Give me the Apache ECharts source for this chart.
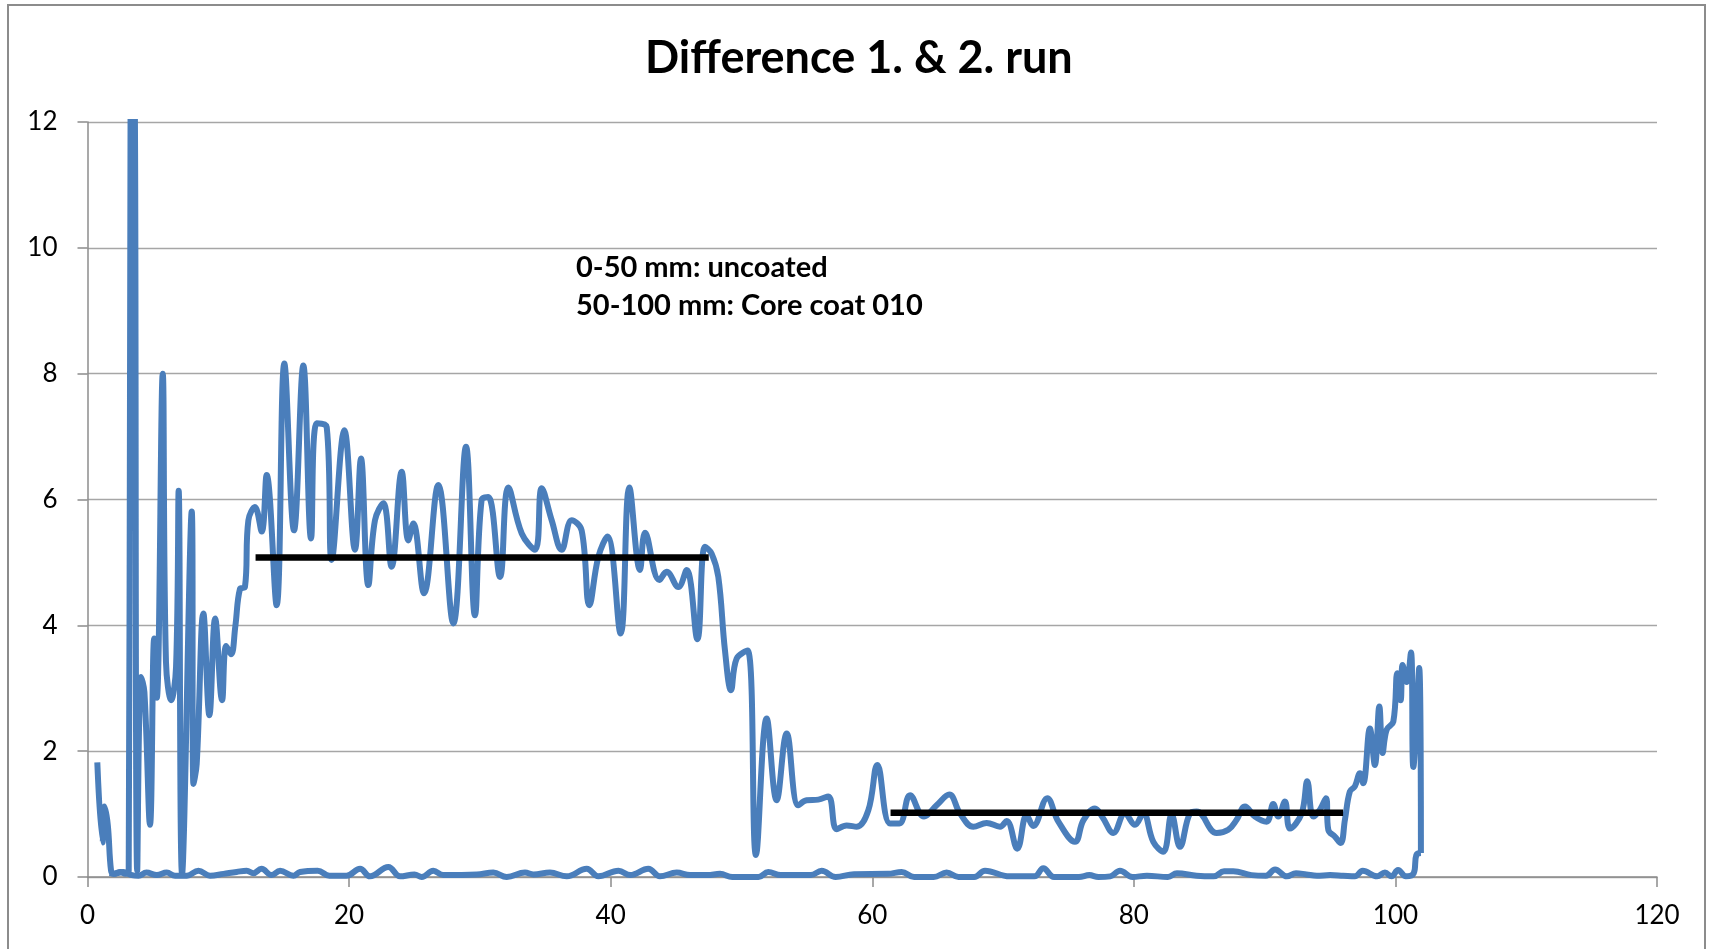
<!DOCTYPE html>
<html>
<head>
<meta charset="utf-8">
<script src="https://cdn.jsdelivr.net/npm/echarts@6/dist/echarts.min.js"></script>
<style>html,body{margin:0;padding:0;background:#fff;}#c{width:1709px;height:949px;}</style>
</head>
<body>
<div id="c"></div>
<script>
// Forward run: position (mm) and difference
const xMain = [0.75,1.15,1.3,1.55,1.8,2.0,2.5,2.9,3.15,3.3,3.55,3.8,4.1,4.35,4.78,5.1,5.3,5.75,6.0,6.4,6.77,6.97,7.23,7.97,8.1,8.35,8.86,9.32,9.76,10.29,10.6,10.98,11.3,11.66,12.04,12.3,12.8,13.32,13.7,14.46,15.05,15.79,16.5,17.09,17.52,18.29,18.67,19.64,20.45,20.91,21.47,21.98,22.62,23.25,24.02,24.53,24.91,25.73,26.82,27.97,28.94,29.62,30.13,30.64,31.54,32.18,33.2,34.22,34.73,35.49,36.25,37.02,37.78,38.37,39.06,39.75,40.76,41.43,42.24,42.63,43.72,44.28,45.17,45.81,46.63,47.21,47.72,48.23,48.74,49.2,49.63,50.47,51.11,51.93,52.69,53.46,54.35,54.98,55.88,56.64,57.28,58.04,58.81,59.7,60.39,61.36,62.07,62.89,63.96,64.92,65.89,66.71,67.73,68.75,69.77,70.28,71.09,71.8,72.31,73.38,74.23,75.5,76.14,77.03,77.6,78.43,79.32,80.09,80.72,81.49,82.25,82.89,83.53,84.29,84.8,86.33,87.22,87.86,88.5,89.26,90.15,90.66,91.04,91.55,91.94,92.83,93.26,93.72,94.23,94.69,94.87,95.38,95.81,96.14,96.52,96.9,97.29,97.54,98.05,98.43,98.77,99.02,99.33,99.84,100.14,100.4,100.55,100.86,101.19,101.37,101.82,101.95];
const yMain = [1.82,0.55,1.12,0.83,0.1,0.05,0.08,0.05,0.1,13,13,0.1,3.18,2.94,0.83,3.79,2.85,8.0,3.42,2.81,3.34,6.14,0.05,5.81,1.48,1.8,4.19,2.57,4.11,2.81,3.67,3.54,3.98,4.58,4.61,5.67,5.88,5.49,6.39,4.32,8.16,5.51,8.13,5.38,7.21,7.15,5.04,7.1,5.2,6.65,4.64,5.67,5.94,4.93,6.44,5.35,5.62,4.51,6.23,4.03,6.84,4.16,5.99,6.04,4.77,6.19,5.46,5.2,6.18,5.67,5.2,5.67,5.51,4.32,5.09,5.41,3.87,6.19,4.88,5.47,4.72,4.85,4.61,4.88,3.78,5.25,5.14,4.77,3.6,2.97,3.47,3.6,0.35,2.52,1.22,2.28,1.14,1.22,1.23,1.28,0.76,0.82,0.8,1.06,1.78,0.85,0.85,1.3,0.96,1.14,1.31,1.01,0.8,0.86,0.8,0.89,0.45,0.98,0.81,1.25,0.88,0.56,0.9,1.09,0.95,0.7,1.01,0.83,1.01,0.56,0.4,0.99,0.48,1.01,1.04,0.7,0.75,0.91,1.12,0.96,0.88,1.16,0.96,1.2,0.77,1.01,1.52,0.96,1.07,1.25,0.75,0.64,0.54,0.91,1.36,1.44,1.65,1.49,2.36,1.78,2.71,1.97,2.34,2.47,3.24,2.81,3.37,3.1,3.57,1.75,3.32,0.38];
// Return run: position (mm) and difference
const xBack = [101.95,101.6,101.4,100.8,100.2,99.7,99.2,98.6,97.5,96.9,96.0,95.0,94.0,93.2,92.4,91.7,90.8,90.1,89.0,87.6,86.9,86.1,84.8,83.3,82.6,81.0,79.9,78.94,78.2,77.3,76.6,75.8,73.9,73.08,72.4,70.5,68.62,67.8,66.6,65.69,64.7,63.2,62.25,61.2,58.6,57.2,56.13,55.3,53.0,52.05,51.3,49.3,48.36,47.4,46.07,45.05,43.77,42.88,41.5,40.6,39.06,38.17,36.64,35.36,34.1,33.45,32.05,31.03,29.76,27.2,26.44,25.55,25.0,23.9,23.0,21.6,20.84,19.8,18.5,17.6,16.25,15.74,14.72,14.08,13.3,12.68,12.17,11.4,10.4,9.37,8.48,7.6,6.7,6.06,5.3,4.5,3.9,3.4,2.74,2.0,1.7];
const yBack = [0.38,0.35,0.06,0.01,0.11,0.01,0.07,0.01,0.1,0.01,0.02,0.03,0.02,0.04,0.06,0.01,0.12,0.02,0.03,0.09,0.09,0.01,0.02,0.06,0.0,0.02,0.0,0.1,0.01,0.0,0.03,0.0,0.0,0.14,0.01,0.01,0.1,0.0,0.0,0.07,0.0,0.0,0.08,0.05,0.045,0.0,0.1,0.03,0.03,0.08,0.0,0.0,0.05,0.03,0.03,0.07,0.01,0.13,0.03,0.1,0.01,0.13,0.01,0.07,0.04,0.07,0.0,0.07,0.04,0.03,0.1,0.0,0.04,0.01,0.16,0.01,0.13,0.02,0.02,0.1,0.08,0.02,0.1,0.03,0.13,0.06,0.1,0.08,0.05,0.02,0.1,0.02,0.02,0.07,0.03,0.07,0.02,0.03,0.08,0.05,0.06];
// Average levels
const mean1X = [12.85, 47.5], mean1Y = 5.08;
const mean2X = [61.4, 96.0], mean2Y = 1.02;
const xTicks = {min: 0, max: 120, interval: 20};
const yTicks = {min: 0, max: 12, interval: 2};
const titleText = 'Difference 1. & 2. run';
const noteLines = ['0-50 mm: uncoated', '50-100 mm: Core coat 010'];

const zip = (xs, ys) => xs.map((x, i) => [x, ys[i]]);
const chart = echarts.init(document.getElementById('c'));
const blue = '#4A7EBB';
const gray = '#a6a6a6';
chart.setOption({
  animation: false,
  backgroundColor: '#fff',
  title: {
    text: titleText, left: 640, top: 31,
    textStyle: {fontFamily: 'Lato', fontWeight: 'bold', fontSize: 45, color: '#000'}
  },
  grid: {left: 87.5, right: 52, top: 122, bottom: 72},
  xAxis: {
    type: 'value', min: xTicks.min, max: xTicks.max, interval: xTicks.interval,
    axisLine: {show: true, lineStyle: {color: '#8c8c8c', width: 1.5}},
    axisTick: {show: true, length: 10, lineStyle: {color: '#8c8c8c', width: 1.5}},
    splitLine: {show: false},
    axisLabel: {margin: 26, fontFamily: 'Lato', fontSize: 26, color: '#000'}
  },
  yAxis: {
    type: 'value', min: yTicks.min, max: yTicks.max, interval: yTicks.interval,
    axisLine: {show: true, lineStyle: {color: '#8c8c8c', width: 1.5}},
    axisTick: {show: true, length: 10, lineStyle: {color: '#8c8c8c', width: 1.5}},
    splitLine: {show: true, lineStyle: {color: gray, width: 1.3}},
    axisLabel: {margin: 30, fontFamily: 'Lato', fontSize: 26, color: '#000'}
  },
  graphic: [
    {type: 'rect', shape: {x: 8, y: 5, width: 1697, height: 980}, style: {fill: 'none', stroke: '#8c8c8c', lineWidth: 2}, silent: true, z: -1},
    {type: 'text', left: 576, top: 248, style: {text: noteLines.join('\n'), font: 'bold 29px Lato', fill: '#000', lineHeight: 38.5}}
  ],
  series: [
    {type: 'line', data: zip(xMain, yMain), showSymbol: false, smooth: 0.4, clip: true,
     lineStyle: {color: blue, width: 6}, z: 2},
    {type: 'line', data: zip(xBack, yBack), showSymbol: false, smooth: 0.4, clip: true,
     lineStyle: {color: blue, width: 6}, z: 2},
    {type: 'line', data: mean1X.map(x => [x, mean1Y]), showSymbol: false,
     lineStyle: {color: '#000', width: 6.5}, z: 3},
    {type: 'line', data: mean2X.map(x => [x, mean2Y]), showSymbol: false,
     lineStyle: {color: '#000', width: 6.5}, z: 3}
  ]
});
</script>
</body>
</html>
